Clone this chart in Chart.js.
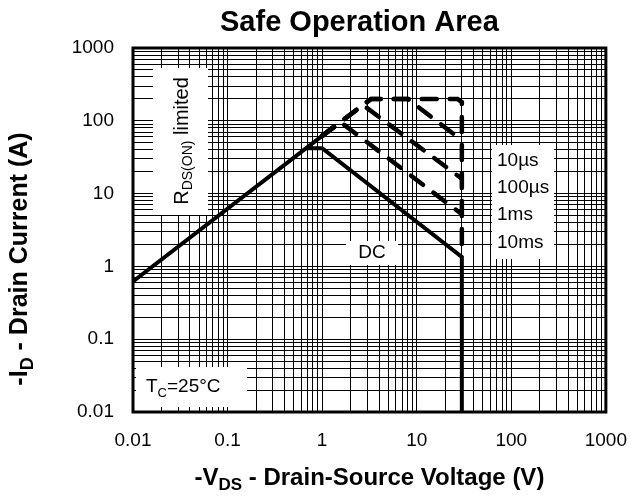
<!DOCTYPE html>
<html>
<head>
<meta charset="utf-8">
<script src="https://cdn.jsdelivr.net/npm/chart.js@4"></script>
<style>
html,body{margin:0;padding:0;background:#fff;}
#wrap{width:644px;height:500px;}
</style>
</head>
<body>
<div id="wrap"><canvas id="c" width="644" height="500"></canvas></div>
<script>
// ---- data ----
const tickValues = [0.01, 0.1, 1, 10, 100, 1000];
const tickLabels = ['0.01', '0.1', '1', '10', '100', '1000'];

const rdsV = [0.01, 1];
const rdsI = [0.62, 62];

const dcV = [0.68, 1, 30, 30];
const dcI = [42, 42, 1.35, 0.01];

const us10V = [1, 2.7, 3.3, 27, 30, 30];
const us10I = [62, 165, 200, 200, 180, 1.35];

const us100V = [1, 2.7, 3.3, 8, 30];
const us100I = [62, 165, 200, 200, 54];

const ms1V = [1, 2.7, 30];
const ms1I = [62, 165, 16];

const ms10V = [1, 1.55, 30];
const ms10I = [62, 97, 5.2];

const legendLabels = ['10µs', '100µs', '1ms', '10ms'];

function pts(xs, ys) { return xs.map((x, i) => ({x: x, y: ys[i]})); }

const FONT = "'Liberation Sans', Arial, Helvetica, sans-serif";

function allLogTicks(min, max) {
  const out = [];
  for (let e = Math.round(Math.log10(min)); e < Math.round(Math.log10(max)); e++) {
    for (let m = 1; m <= 9; m++) out.push(+(m * Math.pow(10, e)).toPrecision(6));
  }
  out.push(max);
  return out;
}
function labelFor(v) {
  const i = tickValues.findIndex(t => Math.abs(t - v) / t < 1e-6);
  return i >= 0 ? tickLabels[i] : '';
}

function richWidth(ctx, parts, size, weight) {
  let w = 0;
  parts.forEach(p => {
    ctx.font = weight + ' ' + (p[1] ? Math.round(size * 0.7) : size) + 'px ' + FONT;
    w += ctx.measureText(p[0]).width;
  });
  return w;
}
function drawRich(ctx, parts, x, y, size, weight, align) {
  const w = richWidth(ctx, parts, size, weight);
  let cx = align === 'center' ? x - w / 2 : (align === 'right' ? x - w : x);
  ctx.textBaseline = 'middle';
  ctx.textAlign = 'left';
  ctx.fillStyle = '#000';
  parts.forEach(p => {
    const s = p[1] ? Math.round(size * 0.7) : size;
    ctx.font = weight + ' ' + s + 'px ' + FONT;
    ctx.fillText(p[0], cx, p[1] ? y + size * 0.32 : y);
    cx += ctx.measureText(p[0]).width;
  });
}

const annot = {
  id: 'annot',
  beforeDatasetsDraw(chart) {
    const {ctx, chartArea: a} = chart;
    ctx.save();
    ctx.strokeStyle = '#000';
    ctx.lineWidth = 3;
    ctx.strokeRect(a.left, a.top, a.right - a.left, a.bottom - a.top);
    ctx.restore();
  },
  afterDatasetsDraw(chart) {
    const {ctx} = chart;
    ctx.save();
    ctx.fillStyle = '#fff';
    ctx.fillRect(153, 68, 55, 147);   // R_DS(ON) limited box
    ctx.fillRect(346, 241, 52, 24);   // DC box
    ctx.fillRect(492, 145, 62, 114);  // legend box
    ctx.fillRect(136, 367, 111, 40);  // Tc box

    ctx.save();
    ctx.translate(182, 141);
    ctx.rotate(-Math.PI / 2);
    drawRich(ctx, [['R', false], ['DS(ON)', true], [' limited', false]], 0, 0, 20, 'normal', 'center');
    ctx.restore();

    drawRich(ctx, [['DC', false]], 372, 253, 19, 'normal', 'center');

    const ly = [161, 188, 215, 243];
    legendLabels.forEach((t, i) => drawRich(ctx, [[t, false]], 497, ly[i], 19, 'normal', 'left'));

    drawRich(ctx, [['T', false], ['C', true], ['=25°C', false]], 146, 387, 19, 'normal', 'left');
    ctx.restore();
  },
  afterDraw(chart) {
    const {ctx, chartArea: a} = chart;
    ctx.save();
    const cx = (a.left + a.right) / 2;
    drawRich(ctx, [['Safe Operation Area', false]], cx - 10, 23, 29, 'bold', 'center');
    drawRich(ctx, [['-V', false], ['DS', true], [' - Drain-Source Voltage (V)', false]], cx, 478, 24, 'bold', 'center');
    ctx.translate(20, 259);
    ctx.rotate(-Math.PI / 2);
    drawRich(ctx, [['-I', false], ['D', true], [' - Drain Current (A)', false]], 0, 0, 25, 'bold', 'center');
    ctx.restore();
  }
};

function logAxis(pos) {
  return {
    type: 'logarithmic',
    position: pos,
    min: 0.01,
    max: 1000,
    afterBuildTicks(scale) {
      scale.ticks = allLogTicks(0.01, 1000).map(v => ({value: v, major: labelFor(v) !== ''}));
    },
    afterFit(scale) {
      if (pos === 'left') scale.width = 133;
      else scale.height = 88;
    },
    ticks: {
      autoSkip: false,
      maxRotation: 0,
      minRotation: 0,
      padding: pos === 'left' ? 19 : 17,
      color: '#000',
      font: {family: FONT, size: 19},
      callback: (v) => labelFor(v)
    },
    grid: {
      color: '#000',
      lineWidth: 1,
      drawTicks: false
    },
    border: {display: false}
  };
}

const dashed = {borderColor: '#000', borderWidth: 4.5, borderDash: [15, 13], borderCapStyle: 'round', pointRadius: 0, fill: false, tension: 0};
const solid = {borderColor: '#000', borderWidth: 4, pointRadius: 0, fill: false, tension: 0, borderCapStyle: 'butt'};

new Chart(document.getElementById('c'), {
  type: 'line',
  data: {
    datasets: [
      Object.assign({label: 'RDS(ON) limited', data: pts(rdsV, rdsI)}, solid),
      Object.assign({label: 'DC', data: pts(dcV, dcI)}, solid),
      Object.assign({label: legendLabels[0], data: pts(us10V, us10I)}, dashed),
      Object.assign({label: legendLabels[1], data: pts(us100V, us100I)}, dashed),
      Object.assign({label: legendLabels[2], data: pts(ms1V, ms1I)}, dashed),
      Object.assign({label: legendLabels[3], data: pts(ms10V, ms10I)}, dashed)
    ]
  },
  options: {
    responsive: false,
    animation: false,
    layout: {padding: {left: 0, right: 24, top: 48, bottom: 0}},
    plugins: {legend: {display: false}, title: {display: false}, tooltip: {enabled: false}},
    scales: {
      x: logAxis('bottom'),
      y: logAxis('left')
    }
  },
  plugins: [annot]
});
</script>
</body>
</html>
